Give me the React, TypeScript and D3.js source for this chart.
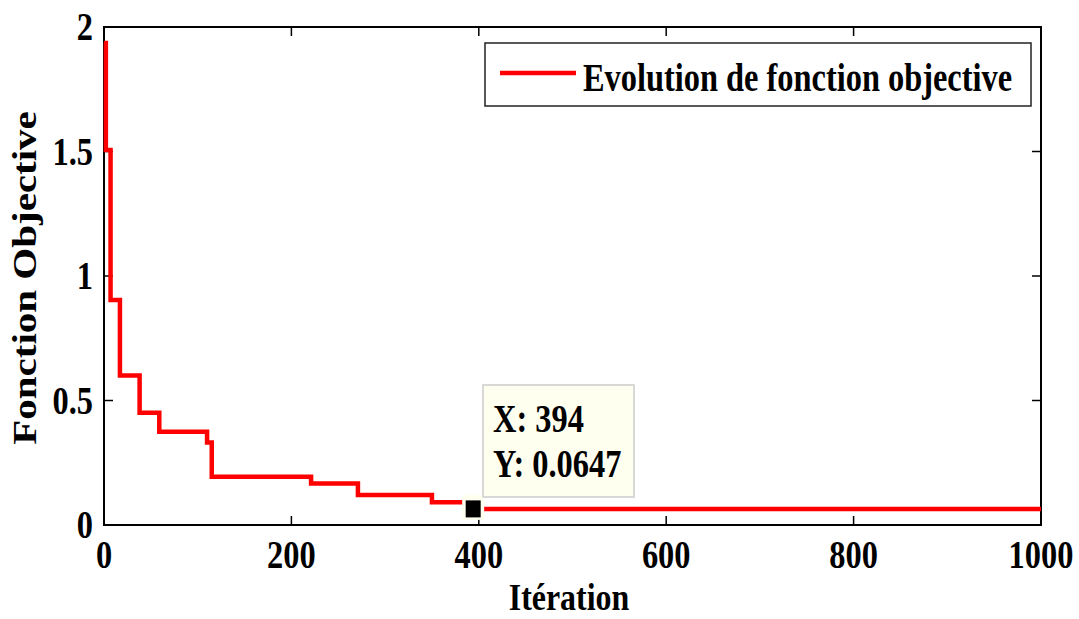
import React from "react";
import * as d3 from "d3";

const iterations = [0, 2, 7, 17, 38, 59, 110, 115, 221, 271, 350, 390, 1000];
const objectiveValues = [1.936, 1.506, 0.904, 0.6, 0.451, 0.375, 0.331, 0.194, 0.167, 0.12, 0.091, 0.0647, 0.0647];
const xTicks = [0, 200, 400, 600, 800, 1000];
const yTicks = [0, 0.5, 1, 1.5, 2];
const yTickLabels = ["0", "0.5", "1", "1.5", "2"];
const legendLabel = "Evolution de fonction objective";
const tipX = 394;
const tipY = 0.0647;

const W = 1079;
const H = 619;
const M = { left: 104, right: 1041, top: 27, bottom: 525 };
const FONT = "'Liberation Serif', 'Times New Roman', serif";
const SX = 0.8;
const FS = 40.5;

function T({ x, y, anchor = "start", size = FS, sx = SX, rotate = 0, children }: any) {
  return (
    <text
      transform={`translate(${x},${y}) scale(${sx},1)${rotate ? ` rotate(${rotate})` : ""}`}
      textAnchor={anchor}
      fontFamily={FONT}
      fontWeight="bold"
      fontSize={size}
      fill="#000"
    >
      {children}
    </text>
  );
}

export default function App() {
  const x = d3.scaleLinear().domain([0, 1000]).range([M.left, M.right]);
  const y = d3.scaleLinear().domain([0, 2]).range([M.bottom, M.top]);
  const data = iterations.map((it, i) => [it, objectiveValues[i]] as [number, number]);
  const line = d3
    .line<[number, number]>()
    .x((d) => x(d[0]))
    .y((d) => y(d[1]))
    .curve(d3.curveStepAfter);
  const tl = 9;
  const mx = x(tipX);
  const my = y(tipY);

  return (
    <svg
      width={W}
      height={H}
      style={{ position: "fixed", left: 0, top: 0, background: "#fff" }}
    >
      <rect x={0} y={0} width={W} height={H} fill="#fff" />
      <rect
        x={M.left}
        y={M.top}
        width={M.right - M.left}
        height={M.bottom - M.top}
        fill="none"
        stroke="#000"
        strokeWidth={2}
      />
      {xTicks.map((t) => (
        <g key={"xt" + t}>
          <line x1={x(t)} x2={x(t)} y1={M.bottom} y2={M.bottom - tl} stroke="#000" strokeWidth={1.5} />
          <line x1={x(t)} x2={x(t)} y1={M.top} y2={M.top + tl} stroke="#000" strokeWidth={1.5} />
          <T x={x(t)} y={568} anchor="middle">
            {String(t)}
          </T>
        </g>
      ))}
      {yTicks.map((t, i) => (
        <g key={"yt" + t}>
          <line x1={M.left} x2={M.left + tl} y1={y(t)} y2={y(t)} stroke="#000" strokeWidth={1.5} />
          <line x1={M.right} x2={M.right - tl} y1={y(t)} y2={y(t)} stroke="#000" strokeWidth={1.5} />
          <T x={93} y={y(t) + 13} anchor="end">
            {yTickLabels[i]}
          </T>
        </g>
      ))}
      <path d={line(data) || ""} fill="none" stroke="#ff0000" strokeWidth={4.5} strokeLinejoin="miter" />
      <rect x={485} y={43} width={546} height={63} fill="#fff" stroke="#222" strokeWidth={1.5} />
      <line x1={500} x2={576} y1={73} y2={73} stroke="#ff0000" strokeWidth={4.5} />
      <T x={583} y={91}>
        {legendLabel}
      </T>
      <rect x={mx - 11} y={my - 14} width={22} height={25} fill="#fffff0" />
      <rect x={mx - 7.5} y={my - 8.5} width={15} height={17} fill="#000" />
      <rect x={483} y={385} width={151} height={112} fill="#fffff0" stroke="#cccccc" strokeWidth={1.5} />
      <T x={493} y={432}>{`X: ${tipX}`}</T>
      <T x={493} y={477}>{`Y: ${tipY}`}</T>
      <T x={569} y={610} anchor="middle" size={38} sx={0.84}>
        Itération
      </T>
      <T x={36} y={278} anchor="middle" size={41} rotate={-90}>
        Fonction Objective
      </T>
    </svg>
  );
}
